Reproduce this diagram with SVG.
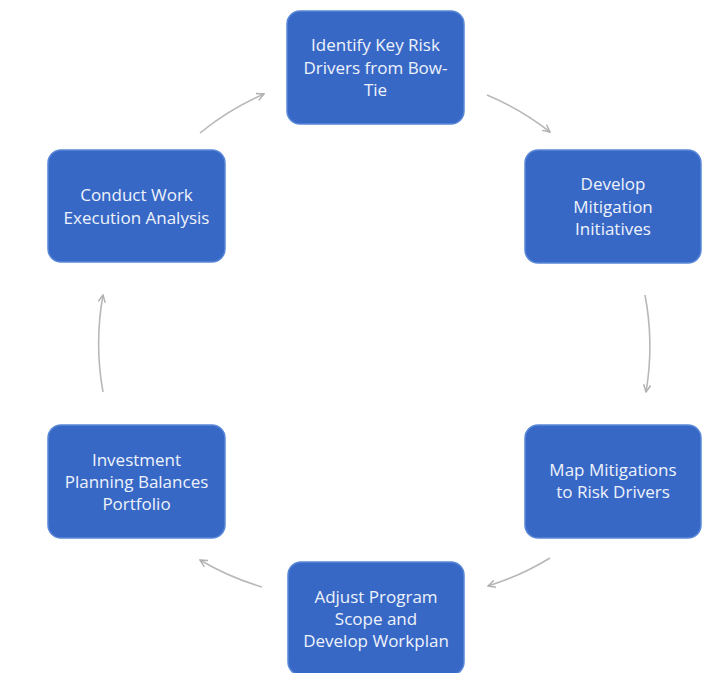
<svg xmlns="http://www.w3.org/2000/svg" width="725" height="673" viewBox="0 0 725 673">
<style>
.box{fill:#3868c6;stroke:#5a88d8;stroke-width:1.5}
.t{font-family:"Open Sans","Liberation Sans",sans-serif;font-size:17px;fill:#eef3fb;text-anchor:middle}
.c{fill:none;stroke:#b8b8b8;stroke-width:1.6}
</style>
<defs>
<marker id="ah" viewBox="0 0 10 10" refX="9" refY="5" markerWidth="9" markerHeight="9" markerUnits="userSpaceOnUse" orient="auto">
<path d="M1,1 L9,5 L1,9" fill="none" stroke="#b0b0b0" stroke-width="1.6"/>
</marker>
</defs>
<rect width="725" height="673" fill="#ffffff"/>
<g id="connectors">
<path class="c" d="M200,133 A272,272 0 0 1 264,94" marker-end="url(#ah)"/>
<path class="c" d="M487,95 A272,272 0 0 1 550,132" marker-end="url(#ah)"/>
<path class="c" d="M645,295 A272,272 0 0 1 646,392" marker-end="url(#ah)"/>
<path class="c" d="M550,558 A272,272 0 0 1 488,586" marker-end="url(#ah)"/>
<path class="c" d="M262,587 A272,272 0 0 1 200,560" marker-end="url(#ah)"/>
<path class="c" d="M103,392 A272,272 0 0 1 103,295" marker-end="url(#ah)"/>
</g>
<g id="n1">
<rect class="box" x="287" y="11" width="177" height="113" rx="13"/>
<text class="t" x="375.5" y="51">Identify Key Risk</text>
<text class="t" x="375.5" y="74">Drivers from Bow-</text>
<text class="t" x="375.5" y="96">Tie</text>
</g>
<g id="n2">
<rect class="box" x="525" y="150" width="176" height="113" rx="13"/>
<text class="t" x="613" y="190">Develop</text>
<text class="t" x="613" y="213">Mitigation</text>
<text class="t" x="613" y="235">Initiatives</text>
</g>
<g id="n3">
<rect class="box" x="525" y="425" width="176" height="113" rx="13"/>
<text class="t" x="613" y="476">Map Mitigations</text>
<text class="t" x="613" y="498">to Risk Drivers</text>
</g>
<g id="n4">
<rect class="box" x="288" y="562" width="176" height="113" rx="13"/>
<text class="t" x="376" y="603">Adjust Program</text>
<text class="t" x="376" y="625">Scope and</text>
<text class="t" x="376" y="647">Develop Workplan</text>
</g>
<g id="n5">
<rect class="box" x="48" y="425" width="177" height="113" rx="13"/>
<text class="t" x="136.5" y="466">Investment</text>
<text class="t" x="136.5" y="488">Planning Balances</text>
<text class="t" x="136.5" y="510">Portfolio</text>
</g>
<g id="n6">
<rect class="box" x="48" y="150" width="177" height="112" rx="13"/>
<text class="t" x="136.5" y="201">Conduct Work</text>
<text class="t" x="136.5" y="224">Execution Analysis</text>
</g>
</svg>
